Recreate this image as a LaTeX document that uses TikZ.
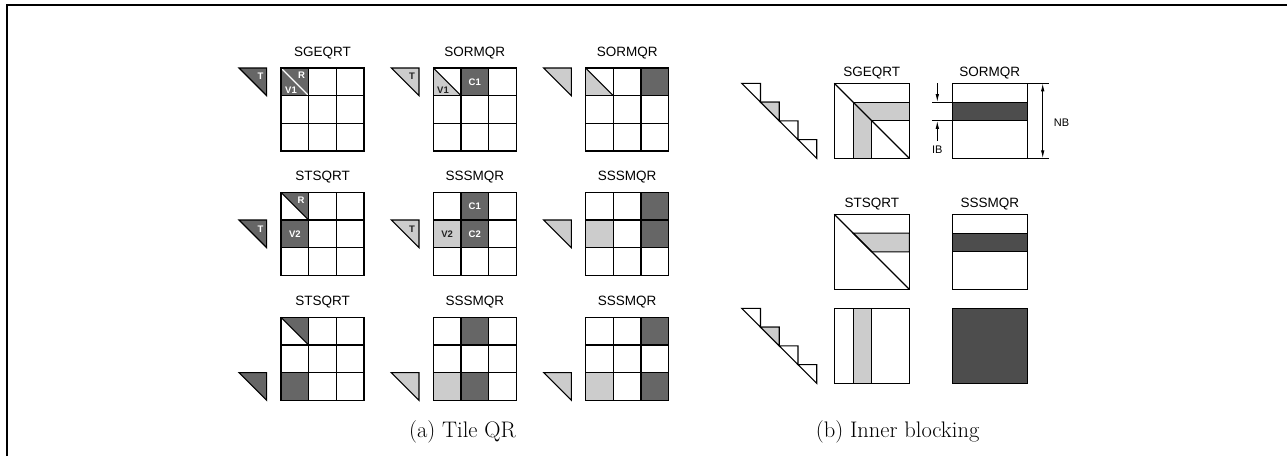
\documentclass[tikz,border=0pt]{standalone}
\usepackage{fontspec}
\newfontfamily\lab{Liberation Sans}
\usetikzlibrary{arrows.meta}
\definecolor{dkgray}{HTML}{666666}
\definecolor{ltgray}{HTML}{CCCCCC}
\definecolor{ibgray}{HTML}{4D4D4D}
\definecolor{txtdark}{HTML}{222222}
\newcommand{\cs}{27.67}
\newcommand{\bs}{18.75}
% cell fill: gx gy row col colour
\newcommand{\cellfill}[5]{\fill[#5] ({#1+(#4-1)*\cs},{#2+(#3-1)*\cs}) rectangle ({#1+#4*\cs},{#2+#3*\cs});}
% grid lines
\newcommand{\gridlines}[2]{\foreach \i in {0,1,2,3}{\draw[gl,line cap=rect] ({#1+\i*\cs},#2) -- ({#1+\i*\cs},{#2+3*\cs}); \draw[gl,line cap=rect] (#1,{#2+\i*\cs}) -- ({#1+3*\cs},{#2+\i*\cs});}}
% upper-right triangle of a square of side \cs
\newcommand{\utri}[3]{\filldraw[gl,fill=#3] (#1,#2) -- ({#1+\cs},#2) -- ({#1+\cs},{#2+\cs}) -- cycle;}
\newcommand{\urhalf}[3]{\fill[#3] (#1,#2) -- ({#1+\cs},#2) -- ({#1+\cs},{#2+\cs}) -- cycle;}
\newcommand{\llhalf}[3]{\fill[#3] (#1,#2) -- (#1,{#2+\cs}) -- ({#1+\cs},{#2+\cs}) -- cycle;}
\newcommand{\celldiag}[3]{\draw[gl,#3] (#1,#2) -- ({#1+\cs},{#2+\cs});}
% staircase
\newcommand{\stair}[2]{\foreach \i in {0,1,2,3}{\draw[gl] ({#1+\i*\bs},{#2+\i*\bs}) -- ({#1+(\i+1)*\bs},{#2+\i*\bs}) -- ({#1+(\i+1)*\bs},{#2+(\i+1)*\bs}) -- cycle;}
 \filldraw[gl,fill=ltgray] ({#1+\bs},{#2+\bs}) -- ({#1+2*\bs},{#2+\bs}) -- ({#1+2*\bs},{#2+2*\bs}) -- cycle;}
\begin{document}
\begin{tikzpicture}[x=1pt,y=-1pt,
  gl/.style={line width=1.1pt,draw=black,line join=miter},
  ttl/.style={font=\lab\fontsize{13.5}{16}\selectfont,anchor=base,inner sep=0pt},
  lw/.style={font=\lab\bfseries\fontsize{9.5}{11}\selectfont,text=white,inner sep=0pt},
  ld/.style={font=\lab\bfseries\fontsize{9.5}{11}\selectfont,text=txtdark,inner sep=0pt},
  dimlab/.style={font=\lab\fontsize{11}{13}\selectfont,inner sep=0pt},
  captext/.style={font=\fontsize{22.5}{27}\selectfont,inner sep=0pt},
  arr/.style={line width=0.9pt,-{Latex[length=8pt,width=3.5pt]}}]
\useasboundingbox (0,0) rectangle (1287,456);
% frame
\draw[line width=1.5pt] (7,456) -- (7,5) -- (1287,5);

% ===================== (a) Tile QR =====================
% ---- row 1 ----
\utri{239}{68}{dkgray}
\node[lw] (t11) at (260.5,76.5) {T};
\cellfill{281}{68}{1}{1}{dkgray}
\draw[line width=1.1pt,white] (281,68) -- ({281+\cs},{68+\cs});
\gridlines{281}{68}
\node[lw] (r11) at (301.5,75) {R};
\node[lw] (v11) at (291,90) {V1};
\node[ttl] (h11) at ({281+1.5*\cs},56) {SGEQRT};

\utri{391.3}{68}{ltgray}
\node[ld] (t12) at (412,76.5) {T};
\llhalf{433.3}{68}{ltgray}
\cellfill{433.3}{68}{1}{2}{dkgray}
\celldiag{433.3}{68}{}
\gridlines{433.3}{68}
\node[ld] (v12) at (443,90.5) {V1};
\node[lw] (c12) at ({433.3+1.5*\cs},{68+0.5*\cs}) {C1};
\node[ttl] (h12) at ({433.3+1.5*\cs},56) {SORMQR};

\utri{543.7}{68}{ltgray}
\llhalf{585.7}{68}{ltgray}
\cellfill{585.7}{68}{1}{3}{dkgray}
\celldiag{585.7}{68}{}
\gridlines{585.7}{68}
\node[ttl] (h13) at ({585.7+1.5*\cs},56) {SORMQR};

% ---- row 2 ----
\utri{239}{220}{dkgray}
\node[lw] (t21) at (260.5,229) {T};
\urhalf{281}{192.3}{dkgray}
\cellfill{281}{192.3}{2}{1}{dkgray}
\celldiag{281}{192.3}{}
\gridlines{281}{192.3}
\node[lw] (r21) at (301,200) {R};
\node[lw] (v21) at ({281+0.5*\cs},{192.3+1.5*\cs}) {V2};
\node[ttl] (h21) at ({281+1.5*\cs},180.3) {STSQRT};

\utri{391.3}{220}{ltgray}
\node[ld] (t22) at (412,229) {T};
\cellfill{433.3}{192.3}{1}{2}{dkgray}
\cellfill{433.3}{192.3}{2}{1}{ltgray}
\cellfill{433.3}{192.3}{2}{2}{dkgray}
\gridlines{433.3}{192.3}
\node[lw] (c22a) at ({433.3+1.5*\cs},{192.3+0.5*\cs}) {C1};
\node[ld] (v22) at ({433.3+0.5*\cs},{192.3+1.5*\cs}) {V2};
\node[lw] (c22b) at ({433.3+1.5*\cs},{192.3+1.5*\cs}) {C2};
\node[ttl] (h22) at ({433.3+1.5*\cs},180.3) {SSSMQR};

\utri{543.7}{220}{ltgray}
\cellfill{585.7}{192.3}{1}{3}{dkgray}
\cellfill{585.7}{192.3}{2}{1}{ltgray}
\cellfill{585.7}{192.3}{2}{3}{dkgray}
\gridlines{585.7}{192.3}
\node[ttl] (h23) at ({585.7+1.5*\cs},180.3) {SSSMQR};

% ---- row 3 ----
\utri{239}{372.6}{dkgray}
\urhalf{281}{317.3}{dkgray}
\cellfill{281}{317.3}{3}{1}{dkgray}
\celldiag{281}{317.3}{}
\gridlines{281}{317.3}
\node[ttl] (h31) at ({281+1.5*\cs},305.3) {STSQRT};

\utri{391.3}{372.6}{ltgray}
\cellfill{433.3}{317.3}{1}{2}{dkgray}
\cellfill{433.3}{317.3}{3}{1}{ltgray}
\cellfill{433.3}{317.3}{3}{2}{dkgray}
\gridlines{433.3}{317.3}
\node[ttl] (h32) at ({433.3+1.5*\cs},305.3) {SSSMQR};

\utri{543.7}{372.6}{ltgray}
\cellfill{585.7}{317.3}{1}{3}{dkgray}
\cellfill{585.7}{317.3}{3}{1}{ltgray}
\cellfill{585.7}{317.3}{3}{3}{dkgray}
\gridlines{585.7}{317.3}
\node[ttl] (h33) at ({585.7+1.5*\cs},305.3) {SSSMQR};

\node[captext] (capa) at (462.5,432) {(a) Tile QR};

% ===================== (b) Inner blocking =====================
% row 1
\stair{741.7}{83.3}
\filldraw[gl,fill=ltgray] ({834.3+\bs},{83.3+\bs}) -- (909.3,{83.3+\bs}) -- (909.3,{83.3+2*\bs}) -- ({834.3+2*\bs},{83.3+2*\bs}) -- ({834.3+2*\bs},158.3) -- ({834.3+\bs},158.3) -- cycle;
\draw[gl] ({834.3+2*\bs},{83.3+2*\bs}) rectangle (909.3,158.3);
\draw[gl] (834.3,83.3) rectangle (909.3,158.3);
\draw[gl] (834.3,83.3) -- (909.3,158.3);
\node[ttl] (hb11) at (871.8,76.8) {SGEQRT};

\filldraw[gl,fill=ibgray] (952.3,{83.3+\bs}) rectangle (1027.3,{83.3+2*\bs});
\draw[gl] (952.3,83.3) rectangle (1027.3,158.3);
\node[ttl] (hb12) at (989.8,76.8) {SORMQR};
% NB dimension
\coordinate (nbt) at (1049,83.3);
\coordinate (nbb) at (1049,158.3);
\draw[gl] (1027.3,83.3) -- (nbt);
\draw[gl] (1027.3,158.3) -- (nbb);
\coordinate (nbat) at (1042.7,83.3);
\coordinate (nbab) at (1042.7,158.3);
\draw[line width=0.9pt,{Latex[length=8pt,width=3.5pt]}-{Latex[length=8pt,width=3.5pt]}] (nbat) -- (nbab);
\node[dimlab] (nb) at (1061.5,123) {NB};
% IB dimension
\coordinate (ibt) at (931.7,{83.3+\bs});
\coordinate (ibb) at (931.7,{83.3+2*\bs});
\draw[gl] (952.3,{83.3+\bs}) -- (ibt);
\draw[gl] (952.3,{83.3+2*\bs}) -- (ibb);
\coordinate (ib1s) at (937.3,83.3);
\coordinate (ib1e) at (937.3,{83.3+\bs});
\coordinate (ib2s) at (937.3,140.5);
\coordinate (ib2e) at (937.3,{83.3+2*\bs});
\draw[arr] (ib1s) -- (ib1e);
\draw[arr] (ib2s) -- (ib2e);
\node[dimlab] (ib) at (937.3,150) {IB};

% row 2
\filldraw[gl,fill=ltgray] ({834.3+\bs},{214.3+\bs}) -- (909.3,{214.3+\bs}) -- (909.3,{214.3+2*\bs}) -- ({834.3+2*\bs},{214.3+2*\bs}) -- cycle;
\draw[gl] (834.3,214.3) rectangle (909.3,289.3);
\draw[gl] (834.3,214.3) -- (909.3,289.3);
\node[ttl] (hb21) at (871.8,207.8) {STSQRT};

\filldraw[gl,fill=ibgray] (952.3,{214.3+\bs}) rectangle (1027.3,{214.3+2*\bs});
\draw[gl] (952.3,214.3) rectangle (1027.3,289.3);
\node[ttl] (hb22) at (989.8,207.8) {SSSMQR};

% row 3
\stair{741.7}{308.3}
\filldraw[gl,fill=ltgray] ({834.3+\bs},308.3) rectangle ({834.3+2*\bs},383.3);
\draw[gl] (834.3,308.3) rectangle (909.3,383.3);
\filldraw[gl,fill=ibgray] (952.3,308.3) rectangle (1027.3,383.3);

\node[captext] (capb) at (897.6,432) {(b) Inner blocking};
\end{tikzpicture}
\end{document}
